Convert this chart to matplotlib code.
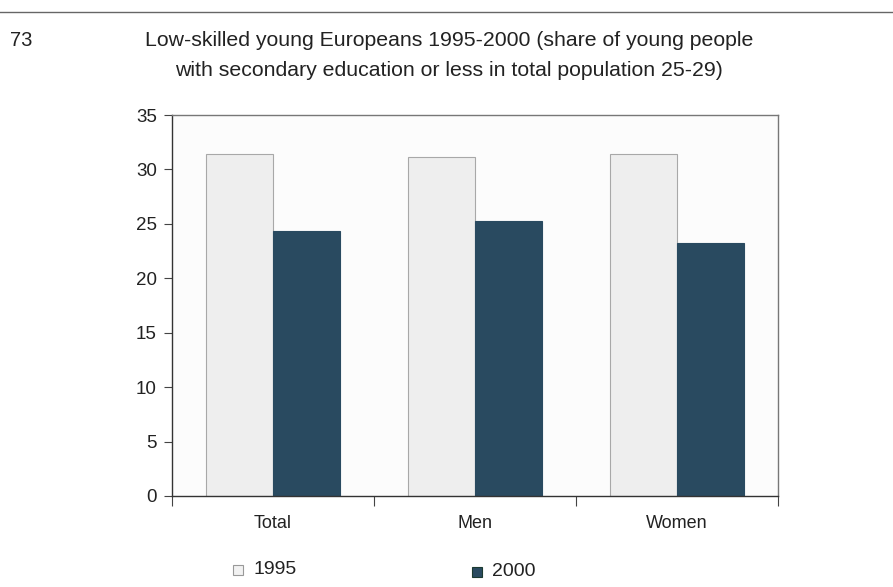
import matplotlib
matplotlib.use("Agg")
import matplotlib.pyplot as plt
import numpy as np
from matplotlib.lines import Line2D
from matplotlib.patches import Rectangle

categories = ["Total", "Men", "Women"]
values_1995 = [31.4, 31.1, 31.4]
values_2000 = [24.3, 25.3, 23.2]
series_labels = ["1995", "2000"]
y_ticks = [0, 5, 10, 15, 20, 25, 30, 35]

plt.rcParams["font.family"] = ["Liberation Sans", "DejaVu Sans"]

W, H = 893, 587
fig = plt.figure(figsize=(W / 100, H / 100), dpi=100, facecolor="white")

# plot area in pixel coordinates
left, right, top, bottom = 172, 778, 115, 496
ax = fig.add_axes([left / W, 1 - bottom / H, (right - left) / W, (bottom - top) / H])
ax.set_facecolor("#fcfcfc")

x = np.arange(len(categories))
bw = 0.333
c1995 = "#eeeeee"
c2000 = "#294a60"
ax.bar(x - bw / 2, values_1995, width=bw, color=c1995, edgecolor="#a8a8a8", linewidth=0.8)
ax.bar(x + bw / 2, values_2000, width=bw, color=c2000, edgecolor=c2000, linewidth=0.8)

ax.set_xlim(-0.5, len(categories) - 0.5)
ax.set_ylim(0, 35)
ax.set_yticks(y_ticks)
ax.set_yticklabels([str(t) for t in y_ticks], fontsize=13.5, color="#222222")
ax.set_xticks(np.arange(len(categories) + 1) - 0.5)
ax.set_xticklabels([])
ax.set_xticks(x, minor=True)
ax.set_xticklabels(categories, minor=True, fontsize=13, color="#222222")
ax.tick_params(axis="x", which="minor", length=0, pad=14)
ax.tick_params(axis="x", which="major", length=7, direction="out", color="#444444")
ax.tick_params(axis="y", length=6, direction="out", color="#444444", pad=5)
for side in ["left", "bottom"]:
    ax.spines[side].set_color("#333333")
    ax.spines[side].set_linewidth(1.0)
for side in ["top", "right"]:
    ax.spines[side].set_color("#777777")
    ax.spines[side].set_linewidth(1.0)

# header rule
fig.add_artist(Line2D([0, 1], [1 - 12 / H, 1 - 12 / H], color="#666666", linewidth=1.0))

fig.text(10 / W, 1 - 40 / H, "73", fontsize=14.5, color="#222222", va="center", ha="left")
fig.text(449 / W, 1 - 40 / H, "Low-skilled young Europeans 1995-2000 (share of young people",
         fontsize=15.3, color="#222222", va="center", ha="center")
fig.text(449 / W, 1 - 71 / H, "with secondary education or less in total population 25-29)",
         fontsize=15.3, color="#222222", va="center", ha="center")

# legend
def legend_item(px, py, face, edge, label):
    s = 10
    fig.add_artist(Rectangle((px / W, 1 - (py + s / 2) / H), s / W, s / H,
                             facecolor=face, edgecolor=edge, linewidth=0.8,
                             transform=fig.transFigure))
    fig.text((px + s + 10) / W, 1 - py / H, label, fontsize=14, color="#222222",
             va="center", ha="left")

legend_item(233, 570, "#f2f2f2", "#999999", series_labels[0])
legend_item(472, 572, c2000, "#1b3a30", series_labels[1])

fig.savefig("out.png", dpi=100, facecolor="white")
